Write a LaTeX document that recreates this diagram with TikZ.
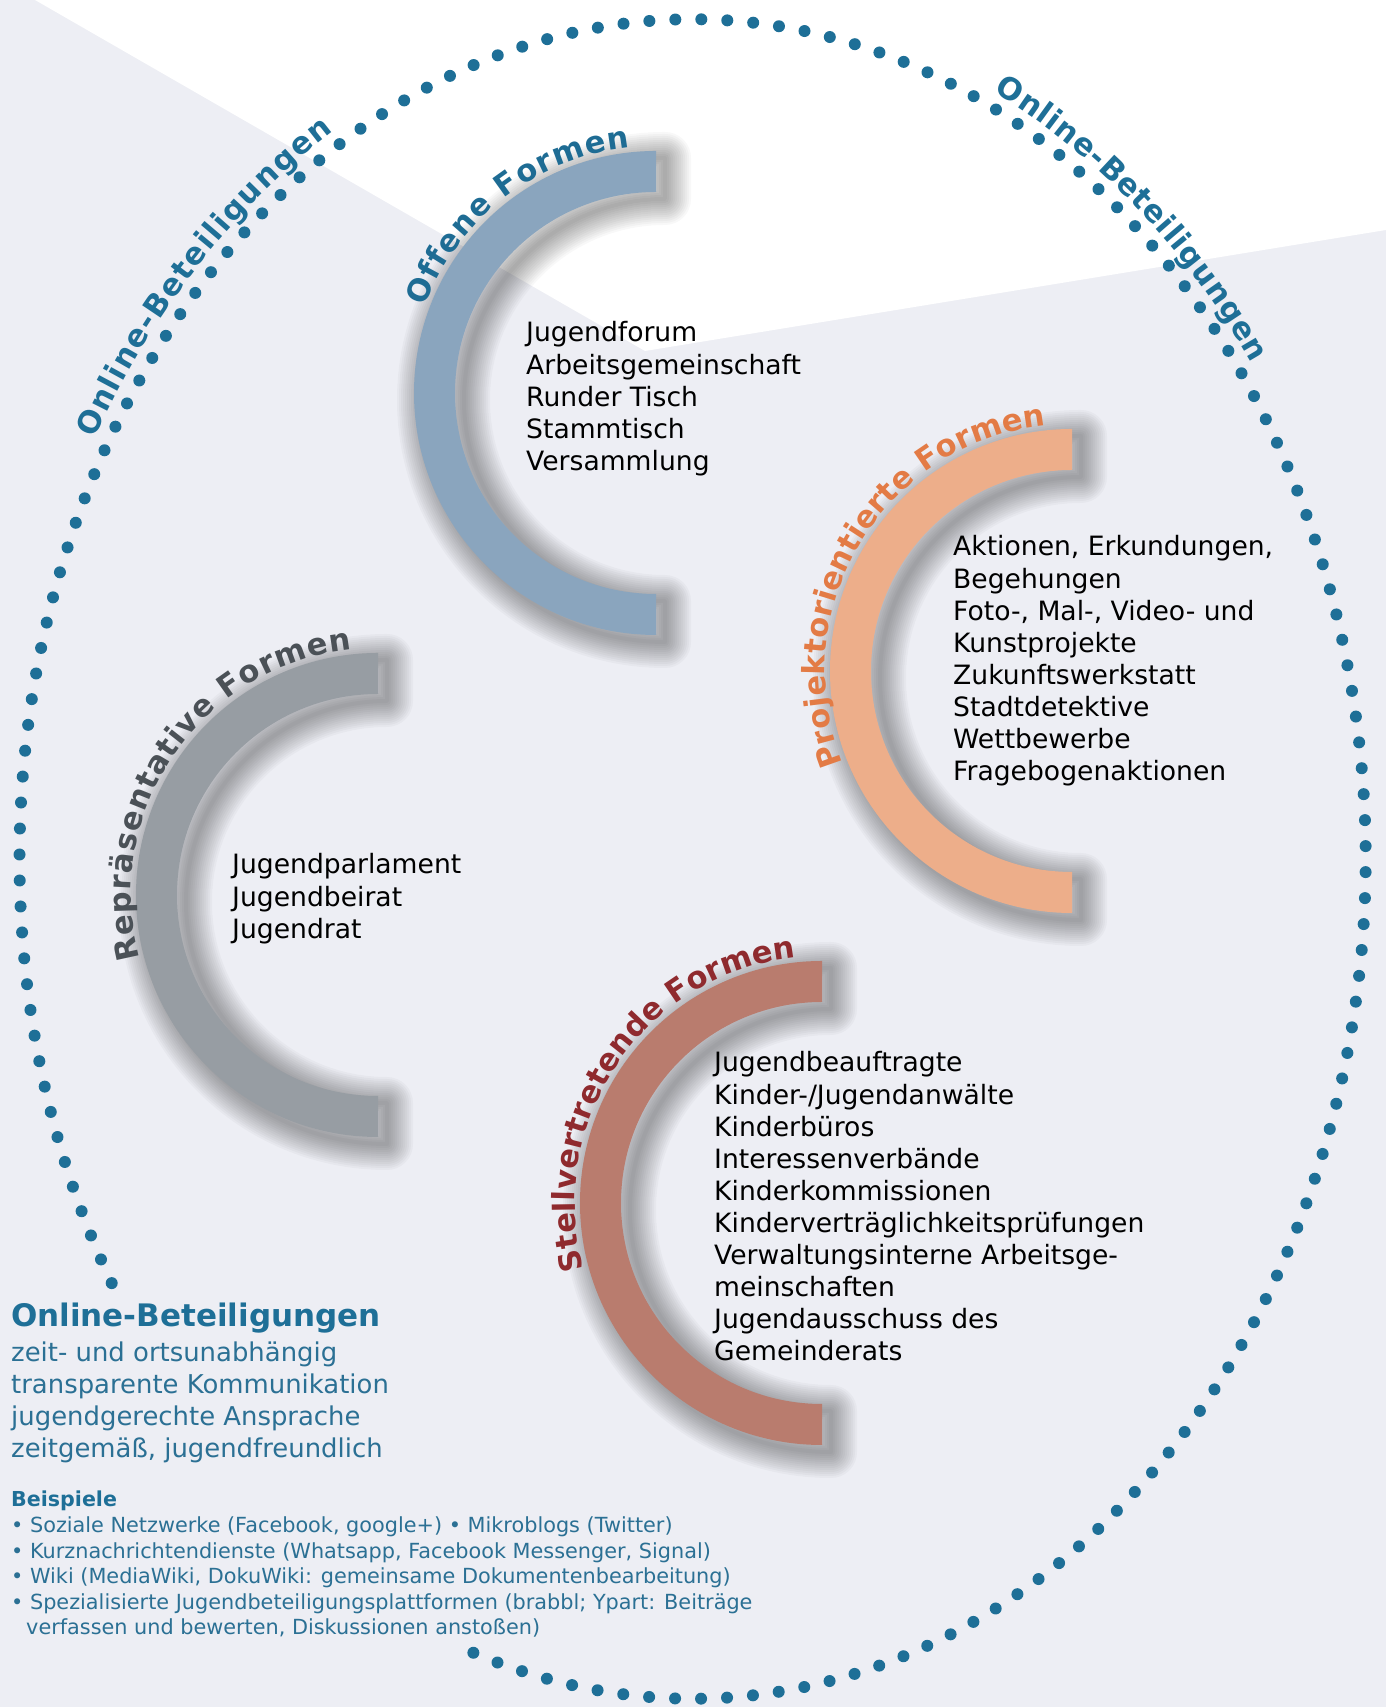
\documentclass[tikz,border=0pt]{standalone}
\usepackage{fontspec}
\setmainfont{DejaVu Sans}
\usetikzlibrary{decorations.text}

\definecolor{bgc}{RGB}{237,238,244}
\definecolor{dotc}{RGB}{30,111,151}
\definecolor{infoc}{RGB}{43,112,148}
\definecolor{offfill}{RGB}{138,165,190}
\definecolor{offtxt}{RGB}{30,108,148}
\definecolor{profill}{RGB}{237,174,138}
\definecolor{protxt}{RGB}{227,123,69}
\definecolor{repfill}{RGB}{151,157,163}
\definecolor{reptxt}{RGB}{75,81,87}
\definecolor{stefill}{RGB}{185,124,110}
\definecolor{stetxt}{RGB}{143,42,46}

\newcommand{\labelfont}{\fontsize{30.5}{32}\selectfont\bfseries}
% C-shaped ring, open to the right; the first argument is its centre,
% the second an offset (x,y) of the top end of the outer edge from it
\newcommand{\ringpath}[2]{(#1) ++(#2)
    arc[start angle=90, end angle=270, radius=242] -- ++(0,41)
    arc[start angle=270, end angle=90, radius=201] -- cycle}
% ring with a soft drop shadow built from widening translucent strokes
\newcommand{\formring}[2]{%
  \foreach \w in {4,8,...,52}{%
    \draw[black, opacity=0.026, line width=\w pt, line join=round]
      \ringpath{#1}{9,235};
  }
  \fill[#2] \ringpath{#1}{0,242};}
% curved heading along the outer edge of a ring
\newcommand{\ringlabel}[4]{%
  \path[decorate, decoration={text along path, text={|\labelfont|#4},
      text color=#2, text align={fit to path}}]
    (#1) ++(#3:247) arc[start angle=#3, end angle=96, radius=247];}

\begin{document}
\begin{tikzpicture}[x=1pt, y=1pt,
  item/.style={anchor=base west, inner sep=0pt, text=black,
    font=\fontsize{26.6}{32}\selectfont},
  info/.style={anchor=base west, inner sep=0pt, text=infoc,
    font=\fontsize{25.9}{30}\selectfont},
  ex/.style={anchor=base west, inner sep=0pt, text=infoc,
    font=\fontsize{20.8}{24}\selectfont},
  dots/.style={draw=dotc, line width=12pt, line cap=round,
    dash pattern=on 0pt off 26pt},
]
\useasboundingbox (0,0) rectangle (1386,1707);

% background
\fill[bgc] (0,0) rectangle (1386,1707);
\fill[white] (35,1707) -- (645,1356) -- (1386,1477) -- (1386,1707) -- cycle;

% centres
\coordinate (ellc) at (692.5,848);
\coordinate (offc) at (656,1314);
\coordinate (proc) at (1072,1036);
\coordinate (repc) at (378,812);
\coordinate (stec) at (822,504);

% dotted ring of online participation
\path[dots] (ellc) ++(251:673 and 839.5)
  arc[start angle=251, end angle=571, x radius=673, y radius=839.5];
\path[decorate, decoration={text along path,
    text={|\labelfont|Online-Beteiligungen}, text color=dotc,
    text align={fit to path}}]
  (ellc) ++(150.5:687 and 853.5)
  arc[start angle=150.5, end angle=121.5, x radius=687, y radius=853.5];
\path[decorate, decoration={text along path,
    text={|\labelfont|Online-Beteiligungen}, text color=dotc,
    text align={fit to path}}]
  (ellc) ++(64:687 and 853.5)
  arc[start angle=64, end angle=35.5, x radius=687, y radius=853.5];

% the four forms
\formring{offc}{offfill}
\formring{proc}{profill}
\formring{repc}{repfill}
\formring{stec}{stefill}

\ringlabel{offc}{offtxt}{159.5}{Offene Formen}
\ringlabel{proc}{protxt}{202}{Projektorientierte Formen}
\ringlabel{repc}{reptxt}{195}{Repräsentative Formen}
\ringlabel{stec}{stetxt}{195.5}{Stellvertretende Formen}

\foreach \t [count=\i from 0] in {Jugendforum, Arbeitsgemeinschaft,
    Runder Tisch, Stammtisch, Versammlung}
  \node[item] (off\i) at (526,{1365-32.1*\i}) {\t};

\foreach \t [count=\i from 0] in {{Aktionen, Erkundungen,}, Begehungen,
    {Foto-, Mal-, Video- und}, Kunstprojekte, Zukunftswerkstatt,
    Stadtdetektive, Wettbewerbe, Fragebogenaktionen}
  \node[item] (pro\i) at (953,{1151-32.1*\i}) {\t};

\foreach \t [count=\i from 0] in {Jugendparlament, Jugendbeirat, Jugendrat}
  \node[item] (rep\i) at (232,{833-32.1*\i}) {\t};

\foreach \t [count=\i from 0] in {Jugendbeauftragte, Kinder-/Jugendanwälte,
    Kinderbüros, Interessenverbände, Kinderkommissionen,
    Kinderverträglichkeitsprüfungen, Verwaltungsinterne Arbeitsge-,
    meinschaften, Jugendausschuss des, Gemeinderats}
  \node[item] (ste\i) at (714,{635-32.1*\i}) {\t};

% online participation: features and examples
\node[anchor=base west, inner sep=0pt, text=dotc,
  font=\fontsize{31}{33}\selectfont\bfseries] (onhead) at (11,380) {Online-Beteiligungen};
\foreach \t [count=\i from 0] in {zeit- und ortsunabhängig,
    transparente Kommunikation, jugendgerechte Ansprache,
    {zeitgemäß, jugendfreundlich}}
  \node[info] (feat\i) at (11,{345.3-31.9*\i}) {\t};

\node[ex, font=\fontsize{20.6}{24}\selectfont\bfseries, text=dotc] (exhead) at (11,200) {Beispiele};
\node[ex] (ex1) at (11,174) {• Soziale Netzwerke (Facebook, google+) • Mikroblogs (Twitter)};
\node[ex] (ex2) at (11,148.5) {• Kurznachrichtendienste (Whatsapp, Facebook Messenger, Signal)};
\node[ex] (ex3) at (11,123) {• Wiki (MediaWiki, DokuWiki: gemeinsame Dokumentenbearbeitung)};
\node[ex] (ex4) at (11,97.5) {• Spezialisierte Jugendbeteiligungsplattformen (brabbl; Ypart: Beiträge};
\node[ex] (ex5) at (26,72) {verfassen und bewerten, Diskussionen anstoßen)};
\end{tikzpicture}
\end{document}
